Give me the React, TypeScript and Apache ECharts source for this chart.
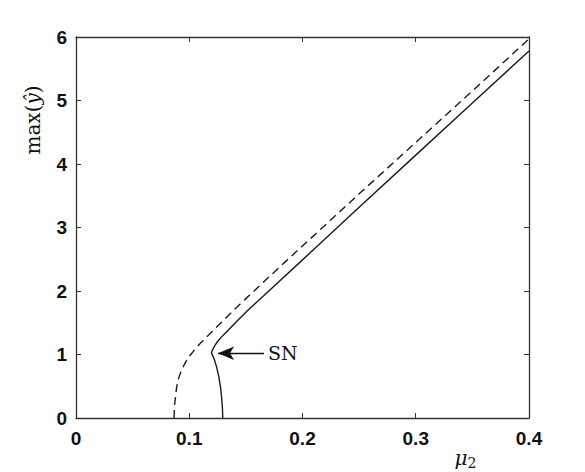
import React, { useEffect, useRef } from "react";
import * as echarts from "echarts";

// Solid branch (stable), passes through saddle-node SN
const muSolid = [0.1296, 0.1293, 0.1286, 0.1275, 0.126, 0.1242, 0.1222, 0.1205, 0.1196, 0.1205, 0.1225, 0.1257, 0.13, 0.135, 0.142, 0.152, 0.165, 0.2, 0.25, 0.3, 0.35, 0.4];
const ySolid = [0, 0.15, 0.32, 0.5, 0.66, 0.8, 0.92, 0.99, 1.02, 1.07, 1.14, 1.22, 1.305, 1.395, 1.525, 1.7, 1.915, 2.49, 3.32, 4.14, 4.96, 5.78];

// Dashed branch
const muDashed = [0.0866, 0.087, 0.088, 0.0889, 0.0905, 0.093, 0.0962, 0.0995, 0.1036, 0.11, 0.12, 0.13, 0.14, 0.15, 0.17, 0.2, 0.25, 0.3, 0.35, 0.4];
const yDashed = [0, 0.2, 0.35, 0.49, 0.62, 0.75, 0.86, 0.96, 1.05, 1.18, 1.36, 1.535, 1.71, 1.88, 2.215, 2.71, 3.53, 4.34, 5.15, 5.97];

// Annotation arrow (SN)
const snArrowFrom = [0.166, 1.02];
const snArrowTo = [0.1254, 1.02];
const snLabel = "SN";

export default function App() {
  const ref = useRef<HTMLDivElement>(null);
  useEffect(() => {
    if (!ref.current) return;
    const chart = echarts.init(ref.current, undefined, { renderer: "svg" });
    const solidData = muSolid.map((m, i) => [m, ySolid[i]]);
    const dashedData = muDashed.map((m, i) => [m, yDashed[i]]);
    const lineCol = "#1a1a1a";
    const tickFont = { fontFamily: "Liberation Sans", fontWeight: "bold" as const, fontSize: 19, color: "#111" };
    const axisLine = { show: true, onZero: false, lineStyle: { color: "#333", width: 1.3 } };
    const axisTick = { show: true, inside: true, length: 5, lineStyle: { color: "#333", width: 1 } };
    chart.setOption({
      animation: false,
      backgroundColor: "#fff",
      grid: { left: 76, top: 37, width: 453, height: 381 },
      xAxis: [
        {
          type: "value", min: 0, max: 0.4, interval: 0.1, position: "bottom",
          axisLine, axisTick, splitLine: { show: false },
          axisLabel: { ...tickFont, margin: 11, formatter: (v: number) => (v === 0 ? "0" : String(+v.toFixed(1))) },
        },
        {
          type: "value", min: 0, max: 0.4, interval: 0.1, position: "top",
          axisLine, axisTick, splitLine: { show: false }, axisLabel: { show: false },
        },
      ],
      yAxis: [
        {
          type: "value", min: 0, max: 6, interval: 1, position: "left",
          axisLine, axisTick, splitLine: { show: false },
          axisLabel: { ...tickFont, margin: 9 },
        },
        {
          type: "value", min: 0, max: 6, interval: 1, position: "right",
          axisLine, axisTick, splitLine: { show: false }, axisLabel: { show: false },
        },
      ],
      graphic: [
        {
          type: "text", x: 33, y: 120, rotation: Math.PI / 2,
          style: {
            text: "{a|max(}{b|ŷ}{a|)}",
            align: "center", verticalAlign: "middle",
            rich: {
              a: { fontFamily: "DejaVu Serif", fontSize: 20, fill: "#111" },
              b: { fontFamily: "DejaVu Serif", fontStyle: "italic", fontSize: 20, fill: "#111" },
            },
          },
        },
        {
          type: "text", x: 461, y: 458,
          style: { text: "μ", fontFamily: "DejaVu Serif", fontStyle: "italic", fontSize: 20, fill: "#111", align: "center", verticalAlign: "middle" },
        },
        {
          type: "text", x: 472, y: 463,
          style: { text: "2", fontFamily: "DejaVu Serif", fontSize: 14, fill: "#111", align: "center", verticalAlign: "middle" },
        },
      ],
      series: [
        {
          type: "line", data: dashedData, showSymbol: false, symbol: "none",
          lineStyle: { color: lineCol, width: 1.4, type: [8, 5] },
          xAxisIndex: 0, yAxisIndex: 0,
        },
        {
          type: "line", data: solidData, showSymbol: false, symbol: "none",
          lineStyle: { color: lineCol, width: 1.4, type: "solid" },
          xAxisIndex: 0, yAxisIndex: 0,
          markLine: {
            silent: true,
            symbol: ["none", "arrow"],
            symbolSize: [10, 16],
            lineStyle: { color: "#111", width: 1.3, type: "solid" },
            label: {
              show: true, position: "start", formatter: snLabel, distance: 4,
              fontFamily: "DejaVu Serif", fontSize: 19, color: "#111",
            },
            data: [[{ coord: snArrowFrom }, { coord: snArrowTo }]],
          },
        },
      ],
    });
    return () => chart.dispose();
  }, []);
  return <div ref={ref} style={{ position: "fixed", left: 0, top: 0, width: 585, height: 472, background: "#fff" }} />;
}
